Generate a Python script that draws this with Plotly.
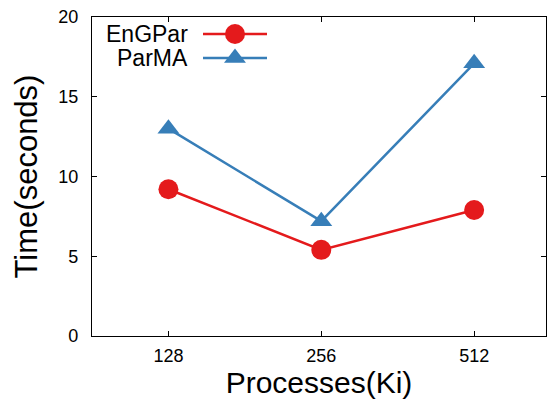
import plotly.graph_objects as go

processes = ["128", "256", "512"]
engpar = [9.2, 5.4, 7.9]
parma = [13.0, 7.2, 17.1]
series_names = ["EnGPar", "ParMA"]
colors = ["#e41a1c", "#377eb8"]
symbols = ["circle", "triangle-up"]
yticks = [0, 5, 10, 15, 20]

FONT = "Liberation Sans, Arial, Helvetica, sans-serif"
L, R, T, B = 92, 546, 17, 336
W, H = 547, 400

fig = go.Figure()
for name, vals, col, sym, msize in zip(series_names, [engpar, parma], colors, symbols, [20, 19]):
    fig.add_trace(go.Scatter(
        x=processes, y=vals, mode="lines+markers", name=name,
        line=dict(color=col, width=2.5),
        marker=dict(symbol=sym, size=msize, color=col),
        showlegend=False,
    ))

# custom legend (text right-aligned left of the key), in pixel-like overlay axes
leg_rows = [34, 58]
for name, col, sym, msize, ry in zip(series_names, colors, symbols, [20, 19], leg_rows):
    fig.add_trace(go.Scatter(
        x=[203, 267], y=[ry, ry], xaxis="x2", yaxis="y2", mode="lines",
        line=dict(color=col, width=2.5), showlegend=False, hoverinfo="skip"))
    fig.add_trace(go.Scatter(
        x=[235], y=[ry], xaxis="x2", yaxis="y2", mode="markers",
        marker=dict(symbol=sym, size=msize, color=col), showlegend=False, hoverinfo="skip"))
    fig.add_annotation(x=190, y=ry, xref="x2", yref="y2", text=name, showarrow=False,
                       xanchor="right", yanchor="middle", font=dict(size=23, color="black", family=FONT))

fig.update_layout(
    width=W, height=H,
    margin=dict(l=L, r=W - R, t=T, b=H - B, pad=0),
    paper_bgcolor="white", plot_bgcolor="white",
    font=dict(family=FONT, color="black", size=18),
    xaxis=dict(
        type="category", range=[-0.5, 2.47],
        showline=True, linecolor="black", linewidth=1.3, mirror="ticks",
        ticks="inside", ticklen=5, tickcolor="black", tickwidth=1,
        showgrid=False, zeroline=False,
        tickfont=dict(size=18), ticklabelstandoff=3,
        title=dict(text="Processes(Ki)", font=dict(size=30), standoff=7),
    ),
    yaxis=dict(
        range=[0, 20], tickvals=yticks,
        showline=True, linecolor="black", linewidth=1.3, mirror="ticks",
        ticks="inside", ticklen=5, tickcolor="black", tickwidth=1,
        showgrid=False, zeroline=False,
        tickfont=dict(size=18), ticklabelstandoff=9,
        title=dict(text="Time(seconds)", font=dict(size=31), standoff=11),
    ),
    xaxis2=dict(overlaying="x", range=[L, R], visible=False, fixedrange=True),
    yaxis2=dict(overlaying="y", range=[B, T], visible=False, fixedrange=True),
)

fig.write_html("out.html")
